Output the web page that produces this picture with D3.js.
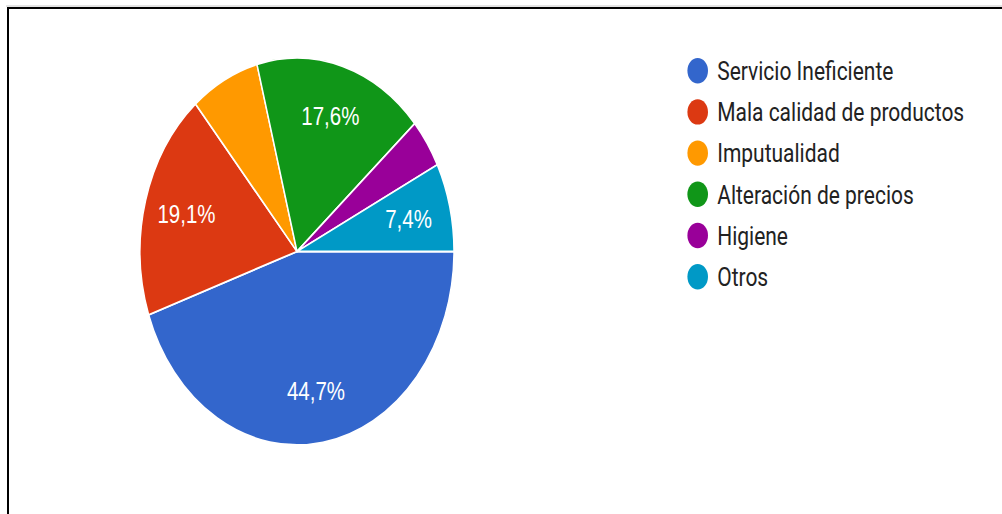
<!DOCTYPE html>
<html>
<head>
<meta charset="utf-8">
<script src="https://cdn.jsdelivr.net/npm/d3@7"></script>
<style>
  html, body { margin: 0; padding: 0; background: #fff; }
  svg { display: block; }
</style>
</head>
<body>
<svg id="chart" width="1002" height="514"></svg>
<script>
// Motivos de insatisfacción (porcentaje de respuestas)
const categories = [
  "Servicio Ineficiente",
  "Mala calidad de productos",
  "Imputualidad",
  "Alteración de precios",
  "Higiene",
  "Otros"
];
const values = [44.7, 19.1, 7.1, 17.6, 4.1, 7.4];
const colors = ["#3366cc", "#dc3912", "#ff9900", "#109618", "#990099", "#0099c6"];
const minLabelPct = 7.2; // slices below this are too narrow for their text

const W = 1002, H = 514;
const sy = 1.2325;               // vertical stretch of the whole drawing
const cx = 297, cy = 251.5 / sy; // pie centre (unstretched units)
const radius = 157;

const svg = d3.select("#chart");

// frame
svg.append("line").attr("x1", 6).attr("x2", W).attr("y1", 6).attr("y2", 6)
  .attr("stroke", "#c8c8c8").attr("stroke-width", 1);
svg.append("line").attr("x1", 7).attr("x2", W).attr("y1", 8).attr("y2", 8)
  .attr("stroke", "#000").attr("stroke-width", 2);
svg.append("line").attr("x1", 8).attr("x2", 8).attr("y1", 7).attr("y2", H)
  .attr("stroke", "#000").attr("stroke-width", 2);

const g = svg.append("g").attr("transform", `scale(1, ${sy})`);

const data = categories.map((c, i) => ({ name: c, value: values[i], color: colors[i] }));

const pie = d3.pie()
  .sort(null)
  .value(d => d.value)
  .startAngle(Math.PI / 2)
  .endAngle(Math.PI / 2 + 2 * Math.PI);

const arc = d3.arc().innerRadius(0).outerRadius(radius);
const labelArc = d3.arc().innerRadius(radius * 0.73).outerRadius(radius * 0.73);

const pg = g.append("g").attr("transform", `translate(${cx},${cy})`);
const arcs = pie(data);

pg.selectAll("path.slice")
  .data(arcs)
  .join("path")
  .attr("class", "slice")
  .attr("d", arc)
  .attr("fill", d => d.data.color)
  .attr("stroke", "#fff")
  .attr("stroke-width", 1.5);

const fmt = v => v.toFixed(1).replace(".", ",") + "%";

pg.selectAll("text.pct")
  .data(arcs.filter(d => d.data.value >= minLabelPct))
  .join("text")
  .attr("class", "pct")
  .attr("transform", d => `translate(${labelArc.centroid(d)})`)
  .attr("text-anchor", "middle")
  .attr("dy", "0.36em")
  .attr("fill", "#fff")
  .attr("font-family", "'Liberation Sans', Arial, sans-serif")
  .attr("font-size", 20.5)
  .text(d => fmt(d.data.value));

// legend
const lx = 697.7, ly0 = 70.7 / sy, lstep = 41.2 / sy;
const legend = g.append("g");
const items = legend.selectAll("g.item")
  .data(data)
  .join("g")
  .attr("class", "item")
  .attr("transform", (d, i) => `translate(${lx},${ly0 + i * lstep})`);

items.append("circle")
  .attr("r", 10.3)
  .attr("fill", d => d.color);

items.append("text")
  .attr("x", 19.5)
  .attr("y", 7.6)
  .attr("fill", "#222")
  .attr("font-family", "Roboto, Arial, sans-serif")
  .attr("font-size", 21)
  .text(d => d.name);
</script>
</body>
</html>
